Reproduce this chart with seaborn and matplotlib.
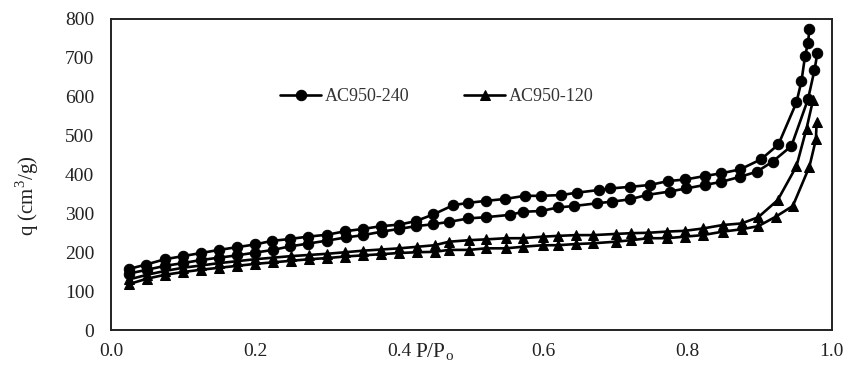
import numpy as np
import pandas as pd
import matplotlib
matplotlib.use("Agg")
import matplotlib.pyplot as plt
import seaborn as sns

# AC950-240, upper branch
ac240_b_x = [0.025, 0.048, 0.075, 0.1, 0.125, 0.15, 0.175, 0.2, 0.223, 0.248, 0.273, 0.3, 0.325, 0.35, 0.375,
             0.4, 0.423, 0.447, 0.475, 0.496, 0.52, 0.547, 0.574, 0.597, 0.625, 0.646, 0.677, 0.693, 0.72, 0.748,
             0.773, 0.797, 0.824, 0.847, 0.873, 0.902, 0.926, 0.951, 0.958, 0.963, 0.967, 0.969]
ac240_b_y = [157, 168, 182, 190, 198, 206, 213, 220, 229, 234, 240, 245, 254, 260, 267,
             271, 280, 297, 321, 327, 332, 337, 345, 345, 347, 353, 360, 364, 368, 373,
             383, 387, 396, 403, 413, 439, 477, 585, 640, 705, 737, 773]
# AC950-240, lower branch
ac240_a_x = [0.025, 0.05, 0.075, 0.1, 0.125, 0.15, 0.175, 0.2, 0.225, 0.248, 0.273, 0.3, 0.326, 0.35, 0.376,
             0.4, 0.423, 0.447, 0.469, 0.496, 0.52, 0.553, 0.572, 0.597, 0.62, 0.643, 0.675, 0.695, 0.72, 0.743,
             0.775, 0.798, 0.824, 0.847, 0.873, 0.896, 0.918, 0.944, 0.967, 0.976, 0.98]
ac240_a_y = [145, 155, 165, 172, 180, 186, 192, 199, 206, 215, 222, 230, 238, 244, 253,
             260, 267, 272, 278, 287, 290, 296, 304, 306, 315, 319, 326, 330, 336, 347,
             356, 364, 373, 381, 394, 407, 433, 473, 593, 668, 711]
# AC950-120, upper branch
ac120_b_x = [0.025, 0.05, 0.075, 0.1, 0.125, 0.15, 0.175, 0.2, 0.225, 0.25, 0.275, 0.3, 0.325, 0.35, 0.375,
             0.4, 0.425, 0.449, 0.469, 0.497, 0.52, 0.548, 0.571, 0.599, 0.62, 0.645, 0.669, 0.7, 0.722, 0.745,
             0.771, 0.796, 0.821, 0.849, 0.875, 0.898, 0.925, 0.951, 0.965, 0.974]
ac120_b_y = [130, 142, 152, 160, 166, 172, 177, 182, 186, 190, 193, 196, 200, 204, 207,
             210, 214, 218, 227, 231, 233, 236, 236, 240, 242, 244, 244, 247, 249, 250,
             253, 255, 261, 270, 274, 290, 334, 421, 518, 591]
# AC950-120, lower branch
ac120_a_x = [0.025, 0.05, 0.075, 0.1, 0.125, 0.15, 0.175, 0.2, 0.225, 0.25, 0.275, 0.3, 0.325, 0.35, 0.375,
             0.4, 0.425, 0.449, 0.469, 0.497, 0.52, 0.548, 0.571, 0.599, 0.62, 0.645, 0.669, 0.7, 0.722, 0.745,
             0.771, 0.796, 0.821, 0.849, 0.875, 0.898, 0.922, 0.946, 0.969, 0.978, 0.979, 0.979]
ac120_a_y = [118, 132, 142, 149, 155, 160, 165, 170, 174, 178, 182, 185, 189, 192, 195,
             198, 200, 201, 206, 206, 210, 210, 214, 218, 218, 221, 223, 227, 231, 236,
             236, 240, 244, 253, 259, 267, 291, 319, 420, 490, 523, 546]

series_names = ["AC950-240", "AC950-120"]
x_ticks = [0.0, 0.2, 0.4, 0.6, 0.8, 1.0]
y_ticks = [0, 100, 200, 300, 400, 500, 600, 700, 800]

sns.set_style("white")
plt.rcParams["font.family"] = ["Liberation Serif", "DejaVu Serif"]
plt.rcParams["mathtext.fontset"] = "custom"
plt.rcParams["mathtext.rm"] = "Liberation Serif"

fig = plt.figure(figsize=(8.47, 3.74), dpi=100)
ax = fig.add_axes([0.131, 0.1176, 0.851, 0.832])

branches = [
    (ac240_a_x, ac240_a_y, "o", series_names[0]),
    (ac240_b_x, ac240_b_y, "o", "_nolegend_"),
    (ac120_a_x, ac120_a_y, "^", series_names[1]),
    (ac120_b_x, ac120_b_y, "^", "_nolegend_"),
]
for bx, by, mk, lab in branches:
    df = pd.DataFrame({"P": bx, "q": by})
    sns.lineplot(data=df, x="P", y="q", ax=ax, sort=False, color="black",
                 marker=mk, markersize=7.5, markeredgecolor="black",
                 markerfacecolor="black", linewidth=1.9, label=lab, legend=False)

ax.set_xlim(0, 1.0)
ax.set_ylim(0, 800)
ax.set_xticks(x_ticks)
ax.set_xticklabels([f"{t:.1f}" for t in x_ticks])
ax.set_yticks(y_ticks)
ax.set_yticklabels([str(t) for t in y_ticks])
ax.tick_params(axis="both", which="both", length=0, labelsize=14, colors="#222222")
ax.tick_params(axis="x", pad=9)
ax.tick_params(axis="y", pad=12)

for s in ax.spines.values():
    s.set_visible(True)
    s.set_color("#222222")
    s.set_linewidth(1.4)

ax.set_xlabel(r"P/P$_\mathregular{o}$", fontsize=15.5, color="#222222")
ax.xaxis.set_label_coords(0.449, -0.036)
ax.xaxis.label.set_va("top")
ax.set_ylabel(r"q (cm$^\mathregular{3}$/g)", fontsize=15, color="#222222")
ax.yaxis.set_label_coords(-0.097, 0.43)

handles, labels = ax.get_legend_handles_labels()
leg = ax.legend(handles, labels, ncol=2, frameon=False, loc="center",
                bbox_to_anchor=(0.452, 0.749), fontsize=13,
                handlelength=2.3, columnspacing=3.0, handletextpad=0.2)
for t in leg.get_texts():
    t.set_color("#333333")

fig.savefig("out.png", dpi=100, facecolor="white")
